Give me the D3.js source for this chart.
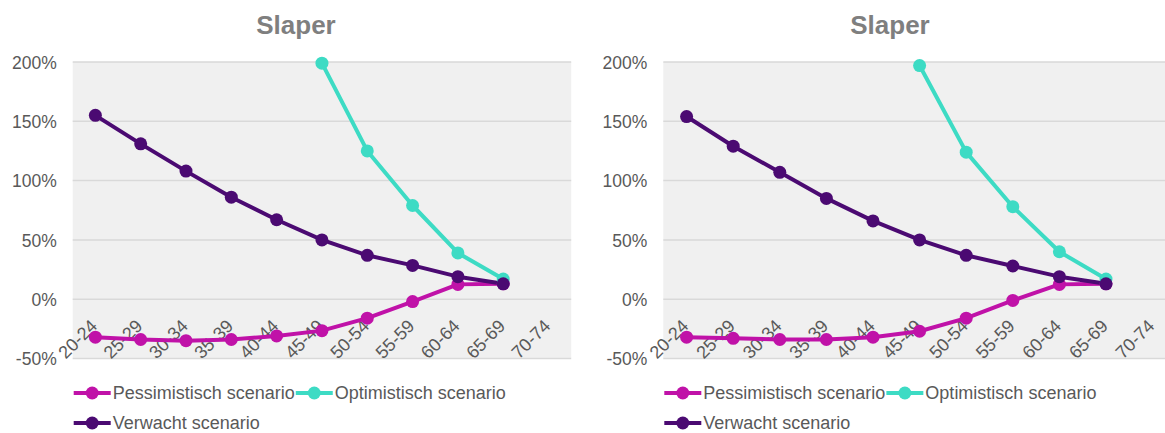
<!DOCTYPE html>
<html>
<head>
<meta charset="utf-8">
<script src="https://cdn.jsdelivr.net/npm/d3@7"></script>
<style>
  html, body { margin: 0; padding: 0; background: #ffffff; }
  svg { display: block; font-family: "Liberation Sans", Arial, sans-serif; }
</style>
</head>
<body>
<svg id="chart" width="1165" height="433"></svg>
<script>
const categories = ["20-24","25-29","30-34","35-39","40-44","45-49","50-54","55-59","60-64","65-69","70-74"];
const yTicks = [-0.5, 0, 0.5, 1, 1.5, 2];
const seriesNames = ["Pessimistisch scenario", "Optimistisch scenario", "Verwacht scenario"];
const seriesColors = ["#c012a8", "#3ddbc4", "#4b0a72"];

// Left chart values
const leftPessimistisch = [-0.32, -0.34, -0.35, -0.34, -0.31, -0.265, -0.16, -0.02, 0.125, 0.13, null];
const leftOptimistisch  = [null, null, null, null, null, 1.99, 1.25, 0.79, 0.39, 0.17, null];
const leftVerwacht      = [1.55, 1.31, 1.08, 0.86, 0.67, 0.50, 0.37, 0.285, 0.19, 0.13, null];

// Right chart values
const rightPessimistisch = [-0.32, -0.33, -0.34, -0.34, -0.32, -0.27, -0.16, -0.01, 0.125, 0.13, null];
const rightOptimistisch  = [null, null, null, null, null, 1.97, 1.24, 0.78, 0.40, 0.17, null];
const rightVerwacht      = [1.54, 1.29, 1.07, 0.85, 0.66, 0.50, 0.37, 0.28, 0.19, 0.13, null];

const svg = d3.select("#chart");

function drawChart(ox, plotLeft, plotWidth, titleX, data) {
  const g = svg.append("g").attr("transform", `translate(${ox},0)`);
  const x = d3.scaleBand().domain(categories).range([plotLeft, plotLeft + plotWidth]).padding(0);
  const y = d3.scaleLinear().domain([-0.5, 2]).range([358.5, 62]);

  // plot background
  g.append("rect")
    .attr("x", plotLeft).attr("y", y(2))
    .attr("width", plotWidth).attr("height", y(-0.5) - y(2))
    .attr("fill", "#f0f0f0");

  // gridlines
  g.selectAll(".grid").data(yTicks).enter().append("line")
    .attr("x1", plotLeft).attr("x2", plotLeft + plotWidth)
    .attr("y1", d => y(d)).attr("y2", d => y(d))
    .attr("stroke", "#d9d9d9").attr("stroke-width", 1.5);

  // y axis labels
  const yAxis = d3.axisLeft(y).tickValues(yTicks).tickSize(0).tickPadding(0)
    .tickFormat(d => Math.round(d * 100) + "%");
  const ya = g.append("g").attr("transform", `translate(${plotLeft - 16},0)`).call(yAxis);
  ya.select(".domain").remove();
  ya.selectAll("text").attr("fill", "#595959").style("font-size", "17.5px")
    .style("font-family", "Liberation Sans, Arial, sans-serif").attr("dy", "0.35em");

  // x axis labels (rotated, at zero line)
  g.selectAll(".xl").data(categories).enter().append("text")
    .attr("transform", d => `translate(${x(d) + x.bandwidth() / 2 + 3},${y(0) + 28}) rotate(-45)`)
    .attr("text-anchor", "end")
    .attr("fill", "#595959")
    .style("font-size", "18px")
    .text(d => d);

  // lines and markers
  const line = d3.line()
    .defined(d => d.v !== null)
    .x(d => x(d.c) + x.bandwidth() / 2)
    .y(d => y(d.v));

  data.forEach((vals, i) => {
    const pts = categories.map((c, j) => ({ c: c, v: vals[j] }));
    g.append("path").datum(pts)
      .attr("fill", "none").attr("stroke", seriesColors[i])
      .attr("stroke-width", 4).attr("stroke-linejoin", "round")
      .attr("d", line);
  });
  data.forEach((vals, i) => {
    const pts = categories.map((c, j) => ({ c: c, v: vals[j] })).filter(d => d.v !== null);
    g.selectAll(null).data(pts).enter().append("circle")
      .attr("cx", d => x(d.c) + x.bandwidth() / 2)
      .attr("cy", d => y(d.v))
      .attr("r", 6.5)
      .attr("fill", seriesColors[i]);
  });

  // title
  g.append("text")
    .attr("x", titleX).attr("y", 34)
    .attr("text-anchor", "middle")
    .attr("fill", "#7f7f7f")
    .style("font-size", "26px").style("font-weight", "bold")
    .text("Slaper");

  // legend
  const legendPos = [
    { row: 0, idx: 0 }, { row: 0, idx: 1 }, { row: 1, idx: 2 }
  ];
  let cursor = plotLeft + 1;
  const rowY = [393, 423];
  legendPos.forEach((p, k) => {
    if (k === 2) cursor = plotLeft + 1;
    const lg = g.append("g").attr("transform", `translate(${cursor},${rowY[p.row]})`);
    lg.append("line").attr("x1", 0).attr("x2", 37).attr("y1", 0).attr("y2", 0)
      .attr("stroke", seriesColors[p.idx]).attr("stroke-width", 4);
    lg.append("circle").attr("cx", 18.5).attr("cy", 0).attr("r", 6.5).attr("fill", seriesColors[p.idx]);
    const t = lg.append("text").attr("x", 39).attr("y", 0).attr("dy", "0.35em")
      .attr("fill", "#595959").style("font-size", "18px")
      .text(seriesNames[p.idx]);
    cursor += 39 + t.node().getComputedTextLength() + 1;
  });
}

drawChart(0, 72.7, 498.5, 296, [leftPessimistisch, leftOptimistisch, leftVerwacht]);
drawChart(0, 663.3, 512.6, 890, [rightPessimistisch, rightOptimistisch, rightVerwacht]);
</script>
</body>
</html>
